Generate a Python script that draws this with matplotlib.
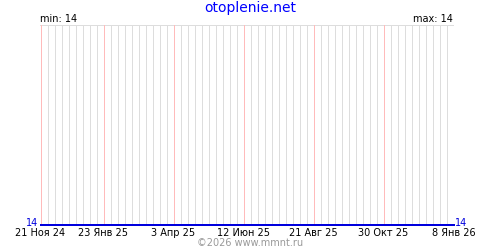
import datetime as dt
import matplotlib
matplotlib.use("Agg")
import matplotlib.pyplot as plt
import matplotlib.dates as mdates

# data
dates = [dt.date(2024, 11, 21), dt.date(2026, 1, 8)]
temps = [14, 14]
tick_dates = [dt.date(2024, 11, 21), dt.date(2025, 1, 23), dt.date(2025, 4, 3),
              dt.date(2025, 6, 12), dt.date(2025, 8, 21), dt.date(2025, 10, 30),
              dt.date(2026, 1, 8)]
months_ru = ["Янв", "Фев", "Мар", "Апр", "Май", "Июн",
             "Июл", "Авг", "Сен", "Окт", "Ноя", "Дек"]
tick_labels = [f"{d.day} {months_ru[d.month - 1]} {d.year % 100:02d}" for d in tick_dates]

px = 72 / 100  # one pixel in points

fig = plt.figure(figsize=(5, 2.5), dpi=100)
ax = fig.add_axes([40 / 500, 25 / 250, 414 / 500, 200 / 250])

x0, x1 = mdates.date2num(dates[0]), mdates.date2num(dates[-1])
ax.set_xlim(x0 - 0.5, x1 + 0.5)
ax.set_ylim(min(temps), min(temps) + 1)

# weekly grey grid, red lines at labelled dates
red_x = [mdates.date2num(d) for d in tick_dates]
grey_x = []
week = x0
while week <= x1 + 0.1:
    if min(abs(week - r) for r in red_x) > 0.5:
        grey_x.append(week)
    week += 7
ax.vlines(grey_x, 0, 1, transform=ax.get_xaxis_transform(), colors="#dddddd",
          lw=0.95 * px, antialiased=False, zorder=1)
ax.vlines(red_x, 0, 1, transform=ax.get_xaxis_transform(), colors="#ffbbbb",
          lw=0.95 * px, antialiased=False, zorder=2)

ax.plot([mdates.date2num(d) for d in dates], temps, color="#0000dd", lw=2 * px,
        clip_on=False, zorder=3)

for side in ["left", "right", "bottom", "top"]:
    ax.spines[side].set_visible(False)
ax.axhline(min(temps) + 1, color="#dddddd", lw=0.95 * px, antialiased=False, zorder=0)
ax.set_yticks([])
ax.set_xticks(red_x)
ax.set_xticklabels(tick_labels, fontsize=7)
ax.tick_params(axis="x", length=0, pad=2)

fig.text(0.5, 1 - 8 / 250, "otoplenie.net", color="#0000ff", fontsize=10,
         ha="center", va="center")
fig.text(40 / 500, 1 - 19 / 250, f"min: {min(temps)}", fontsize=7, ha="left", va="center")
fig.text(453 / 500, 1 - 19 / 250, f"max: {max(temps)}", fontsize=7, ha="right", va="center")
fig.text(38 / 500, 1 - 223 / 250, str(temps[0]), color="#0000dd", fontsize=7, ha="right", va="center")
fig.text(455 / 500, 1 - 223 / 250, str(temps[-1]), color="#0000dd", fontsize=7, ha="left", va="center")
fig.text(0.5, 1 - 243 / 250, "©2026 www.mmnt.ru", color="#999999", fontsize=7,
         ha="center", va="center")

fig.savefig("out.png", dpi=100)
